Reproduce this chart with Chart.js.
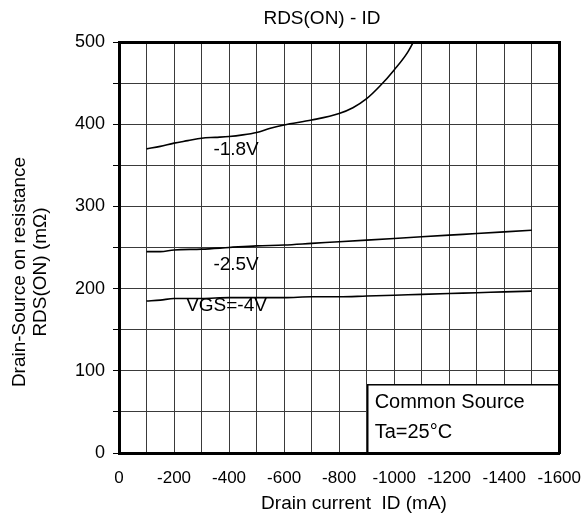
<!DOCTYPE html>
<html>
<head>
<meta charset="utf-8">
<title>RDS(ON) - ID</title>
<script src="https://cdn.jsdelivr.net/npm/chart.js@4.4.1/dist/chart.umd.min.js"></script>
<style>
  html, body { margin: 0; padding: 0; background: #fff; overflow: hidden; }
  canvas { display: block; }
</style>
</head>
<body>
<canvas id="chart" width="581" height="521"></canvas>
<script>
(function () {
  "use strict";

  // drain current (mA) for the -2.5V and -4V curves
  const currentMA = [-100, -150, -200, -300, -400, -500, -600, -700, -800,
    -900, -1000, -1100, -1200, -1300, -1400, -1500];
  const rds25 = [245, 245, 247, 248, 250, 252, 253, 255, 257, 259, 261, 263,
    265, 267, 269, 271];
  const rds40 = [185, 186, 188, 188, 189, 189, 189, 190, 190, 191, 192, 193,
    194, 195, 196, 197];

  // -1.8V curve runs off the top of the chart
  const current18 = [-100, -150, -200, -250, -300, -350, -400, -450, -500,
    -550, -600, -700, -800, -850, -900, -950, -1000, -1050, -1100];
  const rds18 = [370, 373, 377, 380, 383, 384, 385, 387, 390, 395, 399, 405,
    413, 420, 431, 447, 466, 488, 520];

  // curve labels, placed in data units
  const curveLabels = [
    { text: "-1.8V", x: -343, y: 369 },
    { text: "-2.5V", x: -343, y: 229 },
    { text: "VGS=-4V", x: -244, y: 179 },
  ];
  const noteLines = ["Common Source", "Ta=25\u00b0C"];
  const noteBox = { x: -904, y: 83, textX: -929, lineY: [62, 25.5] };

  const FONT = "'Liberation Sans', Arial, sans-serif";

  function pts(xs, ys) {
    return xs.map(function (x, i) {
      return { x: x, y: ys[i] };
    });
  }

  function curve(label, data) {
    return {
      label: label,
      data: data,
      borderColor: "#000",
      borderWidth: 1.6,
      pointRadius: 0,
      fill: false,
      cubicInterpolationMode: "monotone",
    };
  }

  const notePlugin = {
    id: "notes",
    afterDatasetsDraw: function (chart) {
      const ctx = chart.ctx;
      const xs = chart.scales.x;
      const ys = chart.scales.y;
      const area = chart.chartArea;
      const left = xs.getPixelForValue(noteBox.x);
      const top = ys.getPixelForValue(noteBox.y);
      ctx.save();
      ctx.fillStyle = "#fff";
      ctx.fillRect(left, top, area.right - left, area.bottom - top);
      ctx.strokeStyle = "#000";
      ctx.lineWidth = 1.5;
      ctx.strokeRect(left, top, area.right - left, area.bottom - top);
      ctx.restore();
    },
    afterDraw: function (chart) {
      const ctx = chart.ctx;
      const xs = chart.scales.x;
      const ys = chart.scales.y;
      ctx.save();
      ctx.fillStyle = "#000";
      ctx.textBaseline = "middle";

      ctx.font = "19px " + FONT;
      ctx.textAlign = "left";
      curveLabels.forEach(function (l) {
        ctx.fillText(l.text, xs.getPixelForValue(l.x), ys.getPixelForValue(l.y));
      });

      ctx.font = "20px " + FONT;
      noteLines.forEach(function (t, i) {
        ctx.fillText(t, xs.getPixelForValue(noteBox.textX),
          ys.getPixelForValue(noteBox.lineY[i]));
      });

      ctx.textAlign = "center";
      ctx.font = "19px " + FONT;
      ctx.fillText("RDS(ON) - ID", 322, 19);
      ctx.fillText("Drain current  ID (mA)", 354, 504);

      ctx.translate(0, 272);
      ctx.rotate(-Math.PI / 2);
      ctx.fillText("Drain-Source on resistance", 0, 20);
      ctx.fillText("RDS(ON) (m\u03a9)", 0, 41);
      ctx.restore();
    },
  };

  const frame = { color: "#000", width: 3, z: 1 };

  new Chart(document.getElementById("chart"), {
    type: "line",
    data: {
      datasets: [
        curve("-1.8V", pts(current18, rds18)),
        curve("-2.5V", pts(currentMA, rds25)),
        curve("VGS=-4V", pts(currentMA, rds40)),
      ],
    },
    options: {
      responsive: false,
      animation: false,
      layout: { padding: { top: 42, right: 1, left: 0, bottom: 0 } },
      plugins: {
        legend: { display: false },
        tooltip: { enabled: false },
      },
      scales: {
        x: {
          type: "linear",
          min: -1600,
          max: 0,
          reverse: true,
          afterFit: function (s) { s.height = 68; },
          ticks: {
            stepSize: 100,
            autoSkip: false,
            maxRotation: 0,
            padding: 0,
            color: "#000",
            font: { family: FONT, size: 17 },
            callback: function (v) {
              const n = Math.round(v);
              return n % 200 === 0 ? String(n) : "";
            },
          },
          grid: {
            color: "#3a3a3a",
            lineWidth: 1,
            tickLength: 15,
            tickColor: "rgba(0,0,0,0)",
          },
          border: frame,
        },
        y: {
          min: 0,
          max: 500,
          afterFit: function (s) { s.width = 119; },
          ticks: {
            stepSize: 50,
            padding: 8,
            color: "#000",
            font: { family: FONT, size: 18 },
            callback: function (v) {
              const n = Math.round(v);
              return n % 100 === 0 ? String(n) : "";
            },
          },
          grid: { color: "#3a3a3a", lineWidth: 1, tickLength: 6, tickColor: "#000" },
          border: frame,
        },
        xTop: {
          type: "linear",
          position: "top",
          afterFit: function (s) { s.height = 0; },
          ticks: { display: false },
          grid: { display: false },
          border: frame,
        },
        yRight: {
          type: "linear",
          position: "right",
          afterFit: function (s) { s.width = 0; },
          ticks: { display: false },
          grid: { display: false },
          border: frame,
        },
      },
    },
    plugins: [notePlugin],
  });
})();
</script>
</body>
</html>
